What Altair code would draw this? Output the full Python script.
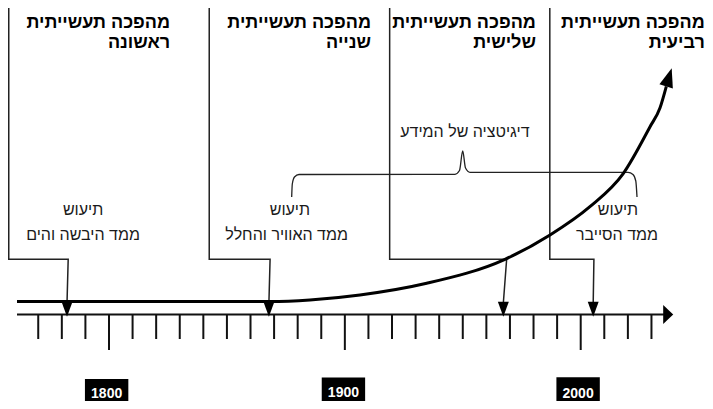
import altair as alt
import pandas as pd

# ---------------- data (x in years, y in diagram units measured from top) ----------------
X_DOMAIN = [1757.18, 2052.70]
Y_DOMAIN = [8, 401]

tick_years = [1770, 1780, 1790, 1800, 1810, 1820, 1830, 1840, 1850, 1860, 1870, 1880, 1890,
              1900, 1910, 1920, 1930, 1940, 1950, 1960, 1970, 1980, 1990, 2000, 2010, 2020, 2030]
major_years = [1800, 1900, 2000]
axis_span = [1761.0, 2035.3]
axis_level = 314.5
tick_end = 339
major_tick_end = 350
axis_arrow_year = 2037.1

# growth curve
curve_years = [1761.0, 1868.3, 1885.2, 1906.4, 1934.7, 1967.9, 1987.0, 2003.9, 2018.1, 2029.4, 2033.6, 2036.3]
curve_levels = [301.5, 301.5, 300.0, 295.0, 283.3, 259.3, 235.0, 206.7, 173.3, 126.7, 108.0, 86.3]
curve_arrow = (2037.4, 77.3)

# industrial revolutions
rev_line_years = [1757.5, 1842.5, 1919.0, 1986.9]
rev_corner_years = [1782.7, 1868.3, 1968.6, 2005.6]
rev_tip_years = [1782.2, 1867.8, 1967.2, 2005.3]
rev_top, rev_elbow, rev_arrow_top, rev_arrow_center = 8, 259.3, 303, 309.2

title_line1 = ["מהפכה תעשייתית", "מהפכה תעשייתית", "מהפכה תעשייתית", "מהפכה תעשייתית"]
title_line2 = ["ראשונה", "שנייה", "שלישית", "רביעית"]
title_right_years = [1825.9, 1911.1, 1981.0, 2052.6]
title_levels = [28, 48]

sub_line1 = ["תיעוש", "תיעוש", "תיעוש"]
sub_line2 = ["ממד היבשה והים", "ממד האוויר והחלל", "ממד הסייבר"]
sub1_years = [1789.0, 1876.7, 2015.8]
sub2_years = [1789.0, 1875.3, 2015.4]
sub_levels = [215, 240]

digit_label = "דיגיטציה של המידע"
digit_year, digit_level = 1950.9, 137

brace_years = [1877.46, 1877.72, 1878.65, 1880.56, 1946.70, 1948.61, 1949.97, 1951.16, 1953.06,
               2020.06, 2022.17, 2023.36, 2023.87]
brace_levels = [197, 184, 177, 174.5, 174.3, 170.5, 151, 168, 172.3, 172.3, 174.5, 181, 197]

year_labels = ["1800", "1900", "2000"]
year_box_centers = [1799.0, 1899.4, 1998.9]
year_box_half = 9.2
year_box_tops = [379, 377.5, 377.3]
year_box_bottom = 405
year_text_levels = [394.0, 393.0, 393.5]

FONT = "Liberation Sans"

# ---------------- scales ----------------
xs = alt.Scale(domain=X_DOMAIN, nice=False, zero=False)
ys = alt.Scale(domain=Y_DOMAIN, nice=False, zero=False, reverse=True)


def X(f="x"):
    return alt.X(f"{f}:Q", scale=xs, axis=None)


def Y(f="y"):
    return alt.Y(f"{f}:Q", scale=ys, axis=None)


# ---------------- frames ----------------
ticks_df = pd.DataFrame({
    "x": tick_years,
    "y": [axis_level] * len(tick_years),
    "y2": [major_tick_end if t in major_years else tick_end for t in tick_years],
})
axis_df = pd.DataFrame({"x": [axis_span[0]], "x2": [axis_span[1]], "y": [axis_level]})
axis_arrow_df = pd.DataFrame({"x": [axis_arrow_year], "y": [axis_level]})
curve_df = pd.DataFrame({"x": curve_years, "y": curve_levels})
curve_arrow_df = pd.DataFrame({"x": [curve_arrow[0]], "y": [curve_arrow[1]]})

rows = []
for i in range(4):
    pts = [(rev_line_years[i], rev_top), (rev_line_years[i], rev_elbow),
           (rev_corner_years[i], rev_elbow), (rev_tip_years[i], rev_arrow_top)]
    for k, (px, py) in enumerate(pts):
        rows.append({"rev": i, "o": k, "x": px, "y": py})
rev_df = pd.DataFrame(rows)
rev_arrow_df = pd.DataFrame({"x": rev_tip_years, "y": [rev_arrow_center] * 4})

title_df = pd.DataFrame({
    "x": title_right_years * 2,
    "y": [title_levels[0]] * 4 + [title_levels[1]] * 4,
    "t": title_line1 + title_line2,
})
sub_df = pd.DataFrame({
    "x": sub1_years + sub2_years,
    "y": [sub_levels[0]] * 3 + [sub_levels[1]] * 3,
    "t": sub_line1 + sub_line2,
})
digit_df = pd.DataFrame({"x": [digit_year], "y": [digit_level], "t": [digit_label]})
brace_df = pd.DataFrame({"x": brace_years, "y": brace_levels})
box_df = pd.DataFrame({
    "x": [c - year_box_half for c in year_box_centers],
    "x2": [c + year_box_half for c in year_box_centers],
    "y": year_box_tops,
    "y2": [year_box_bottom] * 3,
})
year_text_df = pd.DataFrame({"x": year_box_centers, "y": year_text_levels, "t": year_labels})

# ---------------- layers ----------------
ticks = alt.Chart(ticks_df).mark_rule(color="#111", strokeWidth=2).encode(
    x=X(), y=Y(), y2="y2:Q")
axis_line = alt.Chart(axis_df).mark_rule(color="#111", strokeWidth=2).encode(
    x=X(), x2="x2:Q", y=Y())
axis_arrow = alt.Chart(axis_arrow_df).mark_point(
    shape="M0.53,0L-0.53,-1L-0.53,1Z", size=361, filled=True, opacity=1, color="#000",
    strokeWidth=0).encode(x=X(), y=Y())

curve = alt.Chart(curve_df).mark_line(color="#000", strokeWidth=3, interpolate="monotone").encode(
    x=X(), y=Y())
curve_arrow_mark = alt.Chart(curve_arrow_df).mark_point(
    shape="M0,-1L0.74,1L-0.74,1Z", size=361, angle=17, filled=True, opacity=1, color="#000",
    strokeWidth=0).encode(x=X(), y=Y())

rev_lines = alt.Chart(rev_df).mark_line(color="#222", strokeWidth=1.5).encode(
    x=X(), y=Y(), order="o:Q", detail="rev:N")
rev_arrows = alt.Chart(rev_arrow_df).mark_point(
    shape="M-0.73,-1L0.73,-1L0,1Z", size=225, filled=True, opacity=1, color="#000",
    strokeWidth=0).encode(x=X(), y=Y())

titles = alt.Chart(title_df).mark_text(
    align="right", baseline="alphabetic", font=FONT, fontSize=18, fontWeight="bold",
    color="#000").encode(x=X(), y=Y(), text="t:N")
subs = alt.Chart(sub_df).mark_text(
    align="center", baseline="alphabetic", font=FONT, fontSize=16, color="#1a1a1a").encode(
    x=X(), y=Y(), text="t:N")
digit = alt.Chart(digit_df).mark_text(
    align="center", baseline="alphabetic", font=FONT, fontSize=16, color="#1a1a1a").encode(
    x=X(), y=Y(), text="t:N")
brace = alt.Chart(brace_df).mark_line(color="#222", strokeWidth=1.3, interpolate="monotone").encode(
    x=X(), y=Y())

boxes = alt.Chart(box_df).mark_rect(color="#000").encode(x=X(), x2="x2:Q", y=Y(), y2="y2:Q")
year_texts = alt.Chart(year_text_df).mark_text(
    align="center", baseline="middle", font=FONT, fontSize=14, fontWeight="bold",
    color="#fff").encode(x=X(), y=Y(), text="t:N")

chart = alt.layer(
    ticks, axis_line, axis_arrow, rev_lines, rev_arrows, brace, curve, curve_arrow_mark,
    titles, subs, digit, boxes, year_texts,
).properties(
    width=697, height=393,
    autosize=alt.AutoSizeParams(type="none"),
    padding=0,
).configure_view(stroke=None)

chart.save("out.html", embed_options={"renderer": "svg", "actions": False})
